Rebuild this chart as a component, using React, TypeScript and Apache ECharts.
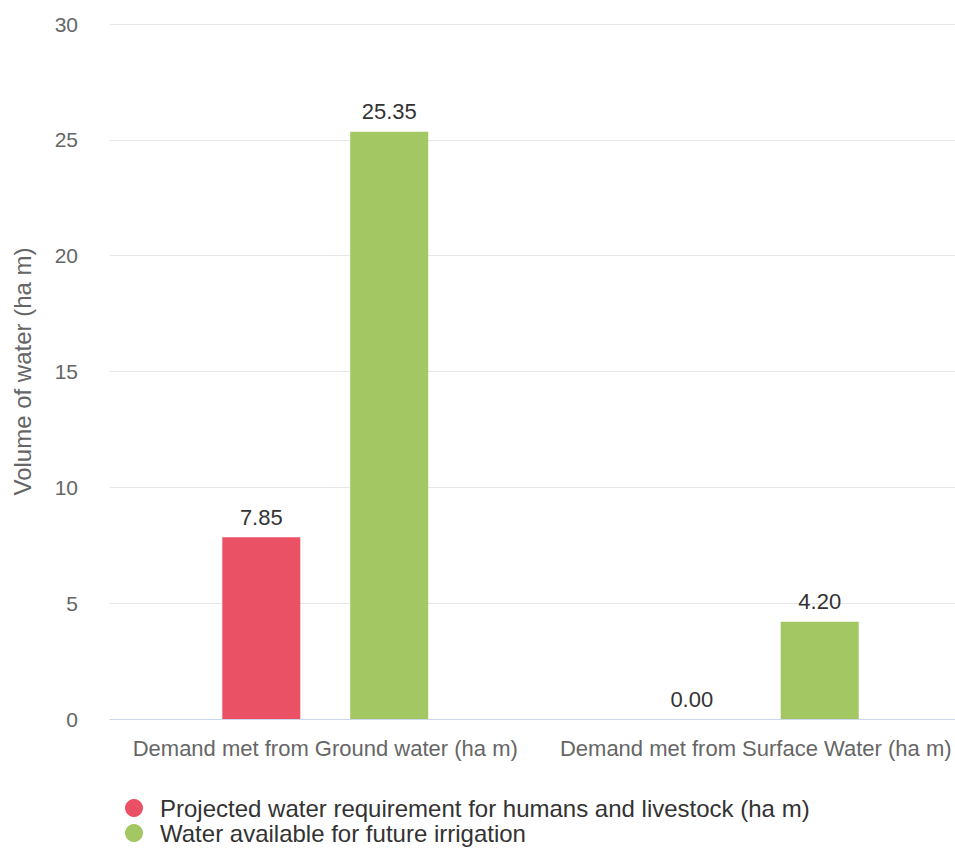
import React, { useEffect, useRef } from "react";
import * as echarts from "echarts";

const categories = [
  "Demand met from Ground water (ha m)",
  "Demand met from Surface Water (ha m)",
];
const seriesNames = [
  "Projected water requirement for humans and livestock (ha m)",
  "Water available for future irrigation",
];
const requirementValues = [7.85, 0.0];
const irrigationValues = [25.35, 4.2];
const yTicks = { min: 0, max: 30, interval: 5 };
const colors = ["#ea5164", "#a3c763"];
const FONT = "Liberation Sans, Arial, sans-serif";

export default function App() {
  const ref = useRef<HTMLDivElement>(null);
  useEffect(() => {
    if (!ref.current) return;
    const chart = echarts.init(ref.current, undefined, { renderer: "svg" });
    const labelCfg = {
      show: true,
      position: "top",
      distance: 9,
      color: "#333",
      fontSize: 22,
      fontFamily: FONT,
      formatter: (p: any) => Number(p.value).toFixed(2),
    };
    chart.setOption({
      animation: false,
      textStyle: { fontFamily: FONT },
      grid: { left: 110, right: 0, top: 24, bottom: 131, containLabel: false },
      legend: {
        orient: "vertical",
        left: 125,
        top: 796,
        padding: 0,
        icon: "circle",
        itemWidth: 18,
        itemHeight: 18,
        itemGap: 1,
        textStyle: {
          fontSize: 24,
          lineHeight: 24,
          color: "#333",
          fontFamily: FONT,
          padding: [0, 0, 0, 12],
        },
        data: seriesNames,
      },
      xAxis: {
        type: "category",
        data: categories,
        axisTick: { show: false },
        axisLine: { lineStyle: { color: "#ccd6eb", width: 1 } },
        axisLabel: {
          color: "#666",
          fontSize: 22,
          margin: 18,
          interval: 0,
          fontFamily: FONT,
        },
      },
      yAxis: {
        type: "value",
        min: yTicks.min,
        max: yTicks.max,
        interval: yTicks.interval,
        name: "Volume of water (ha m)",
        nameLocation: "middle",
        nameGap: 76,
        nameTextStyle: { color: "#666", fontSize: 24, fontFamily: FONT },
        axisLabel: { color: "#666", fontSize: 21, margin: 32, fontFamily: FONT },
        splitLine: { lineStyle: { color: "#e6e6e6" } },
        axisLine: { show: false },
        axisTick: { show: false },
      },
      series: [
        {
          name: seriesNames[0],
          type: "bar",
          data: requirementValues,
          itemStyle: { color: colors[0] },
          barWidth: 78,
          barGap: "64%",
          label: labelCfg,
        },
        {
          name: seriesNames[1],
          type: "bar",
          data: irrigationValues,
          itemStyle: { color: colors[1] },
          barWidth: 78,
          label: labelCfg,
        },
      ],
    });
    return () => chart.dispose();
  }, []);
  return (
    <div
      style={{
        position: "absolute",
        left: 0,
        top: 0,
        width: 955,
        height: 850,
        overflow: "hidden",
      }}
    >
      <div ref={ref} style={{ width: 971, height: 850 }} />
    </div>
  );
}
